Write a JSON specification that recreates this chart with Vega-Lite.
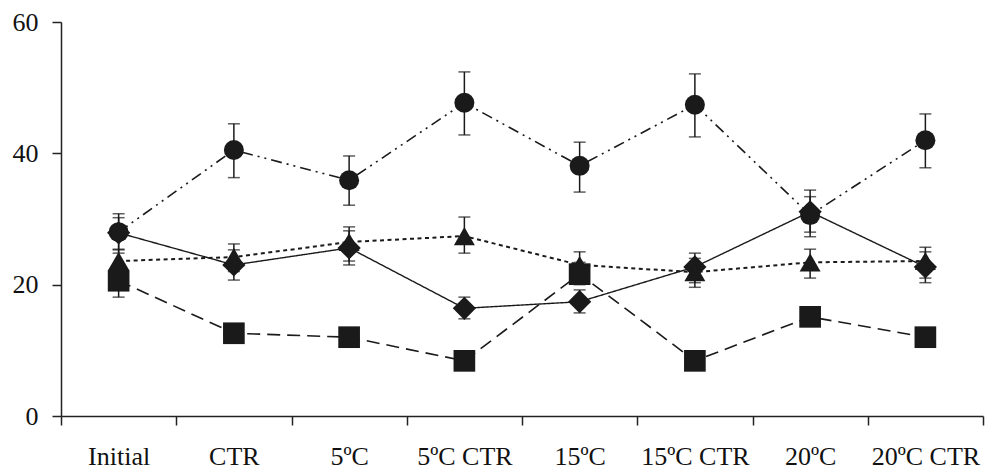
{
  "$schema": "https://vega.github.io/schema/vega-lite/v6.json",
  "width": 922,
  "height": 394,
  "autosize": {"type": "none"},
  "padding": {"left": 61, "top": 22, "right": 2, "bottom": 53},
  "background": "white",
  "config": {"view": {"stroke": null}, "font": "Liberation Serif"},
  "data": {
    "values": [
      {"cat": "Initial", "series": "A", "v": 28.0, "lo": 25.3, "hi": 30.8},
      {"cat": "CTR", "series": "A", "v": 40.5, "lo": 36.3, "hi": 44.5},
      {"cat": "5ºC", "series": "A", "v": 35.9, "lo": 32.1, "hi": 39.6},
      {"cat": "5ºC  CTR", "series": "A", "v": 47.7, "lo": 42.8, "hi": 52.4},
      {"cat": "15ºC", "series": "A", "v": 38.1, "lo": 34.1, "hi": 41.7},
      {"cat": "15ºC CTR", "series": "A", "v": 47.4, "lo": 42.5, "hi": 52.1},
      {"cat": "20ºC", "series": "A", "v": 30.6, "lo": 27.3, "hi": 34.4},
      {"cat": "20ºC CTR", "series": "A", "v": 42.0, "lo": 37.8, "hi": 46.0},

      {"cat": "Initial", "series": "B", "v": 27.9, "lo": 24.8, "hi": 30.2},
      {"cat": "CTR", "series": "B", "v": 23.0, "lo": 20.7, "hi": 25.3},
      {"cat": "5ºC", "series": "B", "v": 25.6, "lo": 23.0, "hi": 28.2},
      {"cat": "5ºC  CTR", "series": "B", "v": 16.4, "lo": 14.8, "hi": 18.1},
      {"cat": "15ºC", "series": "B", "v": 17.4, "lo": 15.7, "hi": 19.2},
      {"cat": "15ºC CTR", "series": "B", "v": 22.7, "lo": 20.3, "hi": 24.8},
      {"cat": "20ºC", "series": "B", "v": 31.1, "lo": 28.0, "hi": 33.4},
      {"cat": "20ºC CTR", "series": "B", "v": 22.7, "lo": 20.3, "hi": 25.7},

      {"cat": "Initial", "series": "C", "v": 23.6, "lo": 21.8, "hi": 25.4},
      {"cat": "CTR", "series": "C", "v": 24.2, "lo": 22.0, "hi": 26.2},
      {"cat": "5ºC", "series": "C", "v": 26.5, "lo": 23.6, "hi": 28.8},
      {"cat": "5ºC  CTR", "series": "C", "v": 27.4, "lo": 24.8, "hi": 30.3},
      {"cat": "15ºC", "series": "C", "v": 23.0, "lo": 21.0, "hi": 25.0},
      {"cat": "15ºC CTR", "series": "C", "v": 21.9, "lo": 19.6, "hi": 24.0},
      {"cat": "20ºC", "series": "C", "v": 23.4, "lo": 21.0, "hi": 25.4},
      {"cat": "20ºC CTR", "series": "C", "v": 23.6, "lo": 21.0, "hi": 25.0},

      {"cat": "Initial", "series": "D", "v": 20.6, "lo": 18.1, "hi": 22.5},
      {"cat": "CTR", "series": "D", "v": 12.6, "lo": 12.1, "hi": 13.1},
      {"cat": "5ºC", "series": "D", "v": 12.0, "lo": 11.5, "hi": 12.5},
      {"cat": "5ºC  CTR", "series": "D", "v": 8.4, "lo": 7.9, "hi": 8.9},
      {"cat": "15ºC", "series": "D", "v": 21.6, "lo": 20.0, "hi": 23.4},
      {"cat": "15ºC CTR", "series": "D", "v": 8.4, "lo": 7.9, "hi": 8.9},
      {"cat": "20ºC", "series": "D", "v": 15.1, "lo": 14.1, "hi": 16.1},
      {"cat": "20ºC CTR", "series": "D", "v": 12.0, "lo": 11.5, "hi": 12.5}
    ]
  },
  "encoding": {
    "x": {
      "field": "cat",
      "type": "nominal",
      "sort": ["Initial", "CTR", "5ºC", "5ºC  CTR", "15ºC", "15ºC CTR", "20ºC", "20ºC CTR"],
      "scale": {"type": "band", "paddingInner": 0, "paddingOuter": 0},
      "axis": {
        "title": null,
        "labelAngle": 0,
        "tickBand": "extent",
        "tickSize": 9,
        "tickWidth": 1.5,
        "tickColor": "#222",
        "domainColor": "#222",
        "domainWidth": 1.5,
        "labelPadding": 18,
        "labelFontSize": 26,
        "labelFont": "Liberation Serif",
        "labelColor": "#111"
      }
    }
  },
  "layer": [
    {
      "mark": {"type": "line", "color": "#1a1a1a"},
      "encoding": {
        "y": {
          "field": "v",
          "type": "quantitative",
          "scale": {"domain": [0, 60], "nice": false},
          "axis": {
            "title": null,
            "values": [0, 20, 40, 60],
            "grid": false,
            "tickSize": 9,
            "tickWidth": 1.5,
            "tickColor": "#222",
            "domainColor": "#222",
            "domainWidth": 1.5,
            "labelPadding": 14,
            "labelFontSize": 26,
            "labelFont": "Liberation Serif",
            "labelColor": "#111"
          }
        },
        "detail": {"field": "series"},
        "strokeDash": {
          "field": "series",
          "type": "nominal",
          "scale": {"type": "ordinal", "domain": ["A", "B", "C", "D"], "range": [[11, 5, 2, 5, 2, 5], [1, 0], [4, 3.5], [13, 7]]},
          "legend": null
        },
        "strokeWidth": {
          "field": "series",
          "type": "nominal",
          "scale": {"type": "ordinal", "domain": ["A", "B", "C", "D"], "range": [1.6, 1.4, 2, 1.6]},
          "legend": null
        }
      }
    },
    {
      "mark": {"type": "rule", "strokeWidth": 1.5, "color": "#1a1a1a"},
      "encoding": {
        "y": {"field": "lo", "type": "quantitative"},
        "y2": {"field": "hi"}
      }
    },
    {
      "mark": {"type": "tick", "size": 12, "thickness": 1.5, "color": "#1a1a1a", "orient": "horizontal"},
      "encoding": {"y": {"field": "lo", "type": "quantitative"}}
    },
    {
      "mark": {"type": "tick", "size": 12, "thickness": 1.5, "color": "#1a1a1a", "orient": "horizontal"},
      "encoding": {"y": {"field": "hi", "type": "quantitative"}}
    },
    {
      "mark": {"type": "point", "filled": true, "opacity": 1, "color": "#1a1a1a"},
      "encoding": {
        "y": {"field": "v", "type": "quantitative"},
        "shape": {
          "field": "series",
          "type": "nominal",
          "scale": {"domain": ["A", "B", "C", "D"], "range": ["circle", "diamond", "triangle-up", "square"]},
          "legend": null
        },
        "size": {
          "field": "series",
          "type": "nominal",
          "scale": {"type": "ordinal", "domain": ["A", "B", "C", "D"], "range": [400, 540, 440, 470]},
          "legend": null
        }
      }
    }
  ]
}
